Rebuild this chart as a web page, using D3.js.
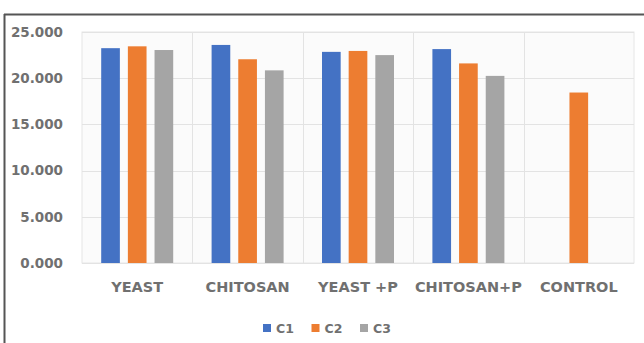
<!DOCTYPE html>
<html>
<head>
<meta charset="utf-8">
<script src="https://cdn.jsdelivr.net/npm/d3@7"></script>
<style>
  html, body { margin: 0; padding: 0; background: #fff; }
  svg { display: block; }
  text { font-family: "DejaVu Sans", "Liberation Sans", sans-serif; font-weight: 700; fill: #707070; }
</style>
</head>
<body>
<svg id="chart" width="644" height="343"></svg>
<script>
// Treatments on the x axis
const categories = ["YEAST", "CHITOSAN", "YEAST +P", "CHITOSAN+P", "CONTROL"];
// Series names and values (null = no bar)
const seriesNames = ["C1", "C2", "C3"];
const c1 = [23250, 23600, 22850, 23150, null];
const c2 = [23450, 22050, 22950, 21600, 18450];
const c3 = [23050, 20850, 22500, 20250, null];
const yTicks = [0, 5000, 10000, 15000, 20000, 25000];
const yTickLabels = ["0.000", "5.000", "10.000", "15.000", "20.000", "25.000"];
const colors = ["#4472c4", "#ed7d31", "#a5a5a5"];

const seriesValues = [c1, c2, c3];
const svg = d3.select("#chart");

// Frame lines around the figure
svg.append("line").attr("x1", 4).attr("x2", 644).attr("y1", 14.5).attr("y2", 14.5)
  .attr("stroke", "#555").attr("stroke-width", 2);
svg.append("line").attr("x1", 4.5).attr("x2", 4.5).attr("y1", 14).attr("y2", 343)
  .attr("stroke", "#555").attr("stroke-width", 2);

const plot = { left: 82, right: 634, top: 32, bottom: 263 };

const x = d3.scaleBand().domain(categories).range([plot.left, plot.right]).padding(0);
const y = d3.scaleLinear().domain([0, 25000]).range([plot.bottom, plot.top]);

// Plot area outline and grid
const grid = svg.append("g");
grid.append("rect").attr("x", plot.left).attr("y", plot.top)
  .attr("width", plot.right - plot.left).attr("height", plot.bottom - plot.top)
  .attr("fill", "#fbfbfb").attr("stroke", "#e6e6e6");
grid.selectAll("line.h").data(yTicks).join("line")
  .attr("x1", plot.left).attr("x2", plot.right)
  .attr("y1", d => Math.round(y(d)) + 0.5).attr("y2", d => Math.round(y(d)) + 0.5)
  .attr("stroke", "#e3e3e3");
grid.selectAll("line.v").data(categories.slice(1)).join("line")
  .attr("x1", d => Math.round(x(d)) + 0.5).attr("x2", d => Math.round(x(d)) + 0.5)
  .attr("y1", plot.top).attr("y2", plot.bottom)
  .attr("stroke", "#e3e3e3");

// Bars
const inner = d3.scaleBand().domain(seriesNames).range([0, 72]).paddingInner(0.3);
const groupOffset = (x.bandwidth() - 72) / 2;
seriesNames.forEach((s, si) => {
  svg.append("g").selectAll("rect")
    .data(categories.map((c, i) => ({ c, v: seriesValues[si][i] })).filter(d => d.v != null))
    .join("rect")
    .attr("x", d => x(d.c) + groupOffset + inner(s))
    .attr("width", inner.bandwidth())
    .attr("y", d => y(d.v))
    .attr("height", d => y(0) - y(d.v))
    .attr("fill", colors[si]);
});

// Y axis labels
const yAxis = d3.axisLeft(y).tickValues(yTicks)
  .tickFormat((d, i) => yTickLabels[i]).tickSize(0).tickPadding(0);
const ya = svg.append("g").attr("transform", `translate(63,0)`).call(yAxis);
ya.select(".domain").remove();
ya.selectAll("text").attr("font-size", 13.5).attr("font-family", null).attr("fill", null);

// X axis labels
const xAxis = d3.axisBottom(x).tickSize(0).tickPadding(0);
const xa = svg.append("g").attr("transform", `translate(0,282)`).call(xAxis);
xa.select(".domain").remove();
xa.selectAll("text").attr("font-size", 14.5).attr("font-family", null).attr("fill", null);

// Legend
const legend = svg.append("g").attr("transform", "translate(263,322)");
const lx = d3.scalePoint().domain(seriesNames).range([0, 97]);
seriesNames.forEach((s, i) => {
  const g = legend.append("g").attr("transform", `translate(${lx(s)},0)`);
  g.append("rect").attr("width", 8).attr("height", 8).attr("y", 2).attr("fill", colors[i]);
  g.append("text").attr("x", 13).attr("y", 11).attr("font-size", 12.5).text(s);
});
</script>
</body>
</html>
